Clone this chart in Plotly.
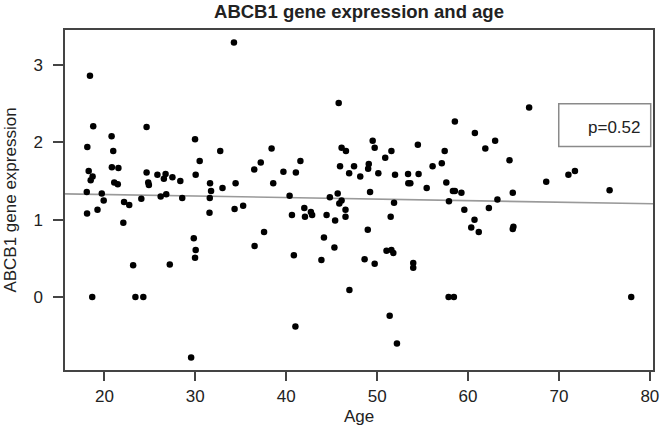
import plotly.graph_objects as go

# Data
age = [18.41, 18.77, 18.12, 20.79, 20.97, 24.64, 29.97, 30.48, 18.27, 18.70,
       20.82, 21.54, 24.64, 25.83, 26.54, 26.73, 27.48, 30.04,
       18.49, 21.08, 21.47, 24.82, 24.89, 28.35, 31.62, 18.06, 19.71, 19.92,
       22.16, 22.73, 24.06, 26.19, 26.80, 28.56, 31.73, 31.59, 18.09, 19.24,
       22.08, 31.56, 29.83, 30.04, 29.97, 23.16, 27.19, 18.66, 23.41, 24.28, 29.54,
       34.25, 45.77, 32.74, 38.39, 46.09, 46.57, 41.56, 37.20, 36.48, 39.69,
       41.06, 45.92, 47.46, 46.92, 48.14,
       32.99, 34.43, 38.57, 40.37, 44.80, 45.66, 46.09, 45.84, 34.32, 35.26,
       40.63, 41.99, 42.06, 42.71, 42.85, 44.44, 45.38, 46.52, 46.52, 37.56,
       36.52, 44.15, 45.30, 40.84, 43.87, 46.95, 41.01,
       58.55, 60.75, 62.98, 61.90, 49.51, 49.73, 54.48, 51.57, 50.89, 57.43,
       64.56, 49.08, 49.01, 50.13, 56.10, 57.11, 51.97, 53.40, 54.56,
       53.43, 53.65, 55.45, 57.61, 58.34, 58.55, 59.27, 49.22, 51.86, 57.90,
       63.23, 51.49, 59.59, 62.29, 60.71, 60.35, 61.18, 48.97, 51.03, 51.57,
       51.78, 48.62, 49.73, 53.97, 53.97, 57.86, 58.44, 51.38, 52.18,
       66.72, 68.60, 71.04, 71.76, 75.57, 64.92, 64.92, 64.99, 77.95]

expression = [2.86, 2.21, 1.94, 2.08, 1.89, 2.20, 2.04, 1.76, 1.63, 1.56,
              1.68, 1.67, 1.61, 1.58, 1.53, 1.59, 1.55, 1.58,
              1.51, 1.48, 1.46, 1.48, 1.45, 1.50, 1.47, 1.36, 1.34, 1.25,
              1.23, 1.19, 1.27, 1.30, 1.33, 1.28, 1.37, 1.28, 1.08, 1.13,
              0.96, 1.09, 0.76, 0.61, 0.51, 0.41, 0.42, 0.00, 0.00, 0.00, -0.78,
              3.29, 2.51, 1.89, 1.92, 1.93, 1.89, 1.76, 1.74, 1.65, 1.62,
              1.61, 1.69, 1.69, 1.60, 1.56,
              1.41, 1.47, 1.47, 1.31, 1.29, 1.34, 1.25, 1.21, 1.14, 1.18,
              1.06, 1.15, 1.04, 1.10, 1.06, 1.06, 0.99, 1.13, 1.04, 0.84,
              0.66, 0.77, 0.64, 0.54, 0.48, 0.09, -0.38,
              2.27, 2.12, 2.02, 1.92, 2.02, 1.93, 1.97, 1.89, 1.80, 1.89,
              1.77, 1.72, 1.66, 1.60, 1.69, 1.73, 1.58, 1.59, 1.59,
              1.47, 1.47, 1.41, 1.48, 1.37, 1.37, 1.35, 1.36, 1.22, 1.24,
              1.26, 1.04, 1.13, 1.15, 1.00, 0.90, 0.84, 0.87, 0.60, 0.61,
              0.57, 0.49, 0.43, 0.44, 0.38, 0.00, 0.00, -0.24, -0.60,
              2.45, 1.49, 1.58, 1.63, 1.38, 1.35, 0.88, 0.91, 0.00]

# Fitted line
fit_intercept = 1.366
fit_slope = -0.00199
p_label = "p=0.52"

x_tick_vals = [20, 30, 40, 50, 60, 70, 80]
y_tick_vals = [0, 1, 2, 3]

# R-style 4% padding of the data range
xmin, xmax = min(age), max(age)
ymin, ymax = min(expression), max(expression)
xpad = 0.04 * (xmax - xmin)
ypad = 0.04 * (ymax - ymin)
xr = [xmin - xpad, xmax + xpad]
yr = [ymin - ypad, ymax + ypad]

FONT = "Liberation Sans, Arial, Helvetica, sans-serif"
TXT = "#222222"

fig = go.Figure()
fig.add_trace(go.Scatter(
    x=xr, y=[fit_intercept + fit_slope * v for v in xr],
    mode="lines", line=dict(color="#9a9a9a", width=1.6),
    hoverinfo="skip", showlegend=False))
fig.add_trace(go.Scatter(
    x=age, y=expression, mode="markers",
    marker=dict(color="black", size=6.5, line=dict(width=0)),
    showlegend=False))

fig.add_shape(type="rect", xref="paper", yref="paper",
              x0=0.8397, x1=0.9961, y0=0.657, y1=0.783,
              line=dict(color="#8a8a8a", width=1.5), fillcolor="white", layer="above")
fig.add_annotation(xref="paper", yref="paper", x=0.981, y=0.712,
                   xanchor="right", yanchor="middle", showarrow=False,
                   text=p_label, font=dict(family=FONT, size=17, color=TXT))

fig.update_layout(
    width=668, height=438,
    margin=dict(l=62, r=9, t=30, b=68),
    paper_bgcolor="white", plot_bgcolor="white",
    font=dict(family=FONT, size=17, color=TXT),
    title=dict(text="<b>ABCB1 gene expression and age</b>",
               x=0.5, xref="paper", y=0.973, yref="container",
               xanchor="center", yanchor="middle",
               font=dict(family=FONT, size=18.5, color=TXT)),
    xaxis=dict(range=xr, tickvals=x_tick_vals, ticktext=[str(v) for v in x_tick_vals],
               showgrid=False, zeroline=False,
               showline=True, mirror=True, linecolor="#444444", linewidth=1.5,
               ticks="outside", ticklen=9, tickwidth=1.5, tickcolor="#444444",
               ticklabelstandoff=1,
               title=dict(text="Age", standoff=5, font=dict(size=17))),
    yaxis=dict(range=yr, tickvals=y_tick_vals, ticktext=[str(v) for v in y_tick_vals],
               showgrid=False, zeroline=False,
               showline=True, mirror=True, linecolor="#444444", linewidth=1.5,
               ticks="outside", ticklen=10, tickwidth=1.5, tickcolor="#444444",
               ticklabelstandoff=7,
               title=dict(text="ABCB1 gene expression", standoff=12, font=dict(size=17))),
)

fig.write_html(
    "out.html",
    config={"displayModeBar": False},
    post_script="document.body.style.margin='0';document.body.style.overflow='hidden';",
)
